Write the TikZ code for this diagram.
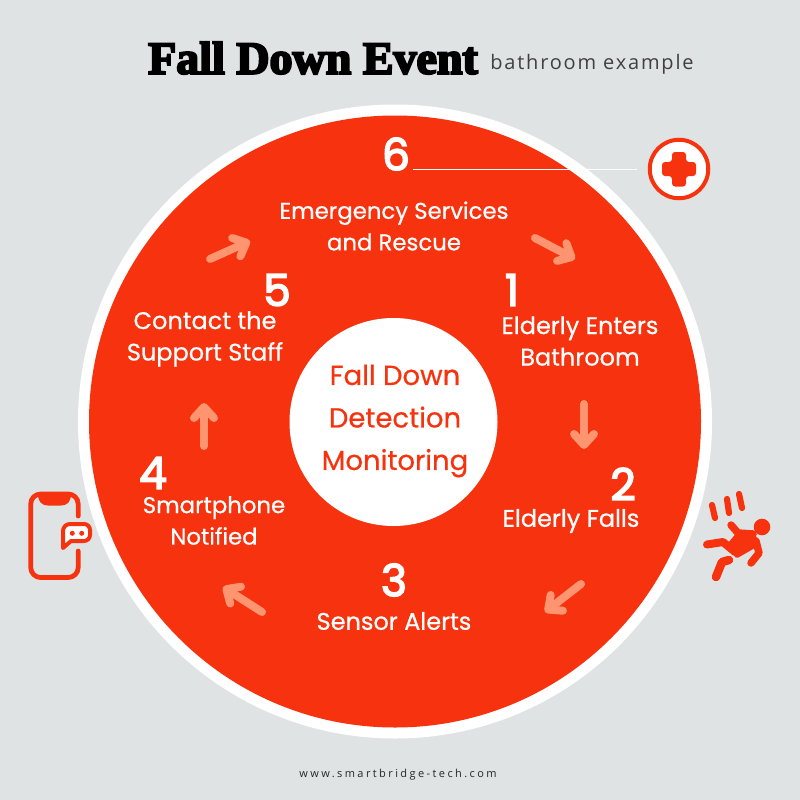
\documentclass[tikz,border=0pt]{standalone}
\usepackage{fontspec}
\setmainfont{Poppins}
\newfontfamily\titlefont[FakeBold=4.5]{Liberation Serif Bold}
\newfontfamily\subfont[LetterSpace=9]{Open Sans}
\newfontfamily\urlfont[LetterSpace=22]{Open Sans}
\newfontfamily\bodyfont[FakeBold=0.6]{Poppins}
\newfontfamily\digitfont[FakeBold=3.5]{Poppins}
\usetikzlibrary{arrows.meta}
\definecolor{bgc}{HTML}{E0E3E4}
\definecolor{redc}{HTML}{F6330E}
\definecolor{salm}{HTML}{FE9470}
\tikzset{
 steplabel/.style={text=white,font=\bodyfont\fontsize{24}{31.5}\selectfont,align=center,inner sep=0pt},
 smallstep/.style={text=white,font=\bodyfont\fontsize{22.8}{31.5}\selectfont,align=center,inner sep=0pt},
 numlabel/.style={text=white,font=\digitfont\fontsize{44}{44}\selectfont,inner sep=0pt},
 centerlabel/.style={text=redc,font=\bodyfont\fontsize{27.5}{42.5}\selectfont,align=center,inner sep=0pt},
 flowarrow/.style={draw=salm,line width=8,line cap=round,-{Straight Barb[round,length=11pt,width=20pt,line width=8pt]}},
 icon/.style={draw=redc,line width=4.8,line cap=round,line join=round,fill=none},
}
\begin{document}
\begin{tikzpicture}[x=1pt,y=-1pt]
\useasboundingbox (0,0) rectangle (800,800);
\fill[bgc] (0,0) rectangle (800,800);
\node[inner sep=0pt,font=\titlefont\fontsize{46}{48}\selectfont] (title) at (313,58) {Fall Down Event};
\node[inner sep=0pt,text=black!75,font=\subfont\fontsize{20}{22}\selectfont] (sub) at (592,64) {bathroom example};
\fill[white] (395,421.5) circle (317);
\fill[redc] (395,421.5) circle (306);
\fill[white] (393.5,422) circle (104);
\node[centerlabel] (center) at (395,421) {Fall Down\\Detection\\Monitoring};
\node[numlabel] (n6) at (396,154) {6};
\node[numlabel] (n1) at (512,290) {1};
\node[numlabel] (n2) at (623,484) {2};
\node[numlabel] (n3) at (394,580) {3};
\node[numlabel] (n4) at (153,473) {4};
\node[numlabel] (n5) at (277,290) {5};
\node[smallstep] (s6) at (394,226) {Emergency Services\\and Rescue};
\node[steplabel] (s1) at (580,341) {Elderly Enters\\Bathroom};
\node[steplabel] (s2) at (571,521) {Elderly Falls};
\node[steplabel] (s3) at (394,621) {Sensor Alerts};
\node[smallstep] (s4) at (214,520.5) {Smartphone\\Notified};
\node[steplabel] (s5) at (205,339) {Contact the\\Support Staff};
\coordinate (a1s) at (535,238); \coordinate (a1e) at (575,259);
\coordinate (a2s) at (584,404); \coordinate (a2e) at (584,449);
\coordinate (a3s) at (581,584); \coordinate (a3e) at (545,612);
\coordinate (a4s) at (262,612); \coordinate (a4e) at (223,587);
\coordinate (a5s) at (204,446); \coordinate (a5e) at (204,403);
\coordinate (a6s) at (210,259); \coordinate (a6e) at (250,241);
\draw[flowarrow] (a1s) -- (a1e);
\draw[flowarrow] (a2s) -- (a2e);
\draw[flowarrow] (a3s) -- (a3e);
\draw[flowarrow] (a4s) -- (a4e);
\draw[flowarrow] (a5s) -- (a5e);
\draw[flowarrow] (a6s) -- (a6e);
% leader and cross icon
\node[circle,draw=redc,line width=4,fill=white,minimum size=58.5pt,inner sep=0pt] (cross) at (679,169) {};
\coordinate (l6) at (413,169); \coordinate (l6e) at (637,169);
\draw[white,line width=1] (l6) -- (l6e);
\fill[redc,rounded corners=3] (672,152) -- (686,152) -- (686,162) -- (696,162) -- (696,176) -- (686,176) -- (686,186.5) -- (672,186.5) -- (672,176) -- (662,176) -- (662,162) -- (672,162) -- cycle;
% falling person
\fill[redc] (762,527) circle (8.3);
\draw[redc,line width=6.2,line cap=round] (712,505) -- (715,518);
\draw[redc,line width=6.2,line cap=round] (727,499) -- (729,513);
\draw[redc,line width=6.2,line cap=round] (739,494) -- (742,508);
\fill[redc,line join=round,draw=redc,line width=4] (739,533) -- (752,533) -- (758,544) -- (737,556) -- (728,546) -- cycle;
\draw[redc,line width=7.5,line cap=round,line join=round] (731,525) -- (738,533) -- (753,534);
\draw[redc,line width=8,line cap=round,line join=round] (707,544.5) -- (723,542) -- (735,552);
\draw[redc,line width=7.5,line cap=round,line join=round] (756,541) -- (759,553) -- (751,563);
\draw[redc,line width=8.5,line cap=round,line join=round] (716,577) -- (722,562) -- (729,560);
% phone
\draw[icon] (78.2,516) -- (78.2,504) arc[start angle=0,end angle=-90,radius=10] -- (40.7,494) arc[start angle=-90,end angle=-180,radius=10] -- (30.7,567.5) arc[start angle=180,end angle=90,radius=10] -- (68.2,577.5) arc[start angle=90,end angle=0,radius=10] -- (78.2,551);
\fill[redc] (38,494) -- (71,494) .. controls (71,502) and (67,505.5) .. (61,505.5) -- (48,505.5) .. controls (42,505.5) and (38,502) .. (38,494) -- cycle;
\draw[redc,line width=4,line join=round,fill=white] (70,524) -- (84,524) arc[start angle=-90,end angle=0,radius=6] -- (90,535) arc[start angle=0,end angle=90,radius=6] -- (71,541) -- (63,548) -- (63,531) arc[start angle=180,end angle=270,radius=7] -- cycle;
\fill[redc] (72.3,533.3) circle (2.5) (81.7,533.3) circle (2.5);
\node[inner sep=0pt,text=black!85,font=\urlfont\fontsize{11}{13}\selectfont] (url) at (398,775) {www.smartbridge-tech.com};
\end{tikzpicture}
\end{document}
